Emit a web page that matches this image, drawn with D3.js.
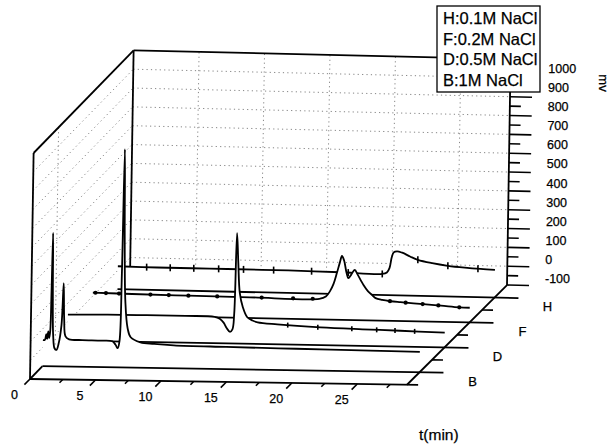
<!DOCTYPE html>
<html>
<head>
<meta charset="utf-8">
<script src="https://cdn.jsdelivr.net/npm/d3@7/dist/d3.min.js"></script>
<style>
  body { margin: 0; background: #fff; }
  svg { display: block; font-family: "Liberation Sans", Arial, sans-serif; }
</style>
</head>
<body>
<div id="chart"></div>
<script>
/* categories, front (B) to back (H) */
var series = ["B", "D", "F", "H"];
var legendLabels = ["H:0.1M NaCl", "F:0.2M NaCl", "D:0.5M NaCl", "B:1M NaCl"];
var timeTicks = [0, 5, 10, 15, 20, 25];
var mvTicks = [-100, 0, 100, 200, 300, 400, 500, 600, 700, 800, 900, 1000];

/* chromatograms: [t (min), signal (mV)] */
var traceB = [[0, 38], [0.15, 40], [0.25, 70], [0.32, 45], [0.4, 85], [0.48, 50], [0.55, 90],
              [0.6, 300], [0.65, 608], [0.7, 300], [0.78, 60], [0.9, -5], [1.05, -12], [1.2, 20],
              [1.4, 120], [1.52, 343], [1.6, 150], [1.72, 60], [2.0, 45], [3, 42], [4.5, 41],
              [5.3, 38], [5.55, 20], [5.72, 2], [5.85, 40], [5.95, 400], [6.03, 1059], [6.12, 600],
              [6.25, 250], [6.45, 110], [6.7, 61], [7.45, 35], [8.5, 28], [10, 22], [14, 18],
              [18, 15], [22, 13], [25, 11], [28.8, 8]];
var traceD = [[0, 37], [3, 41], [6, 42], [9, 42], [11.2, 40], [11.6, 30], [11.9, 10], [12.15, -20],
              [12.4, -38], [12.58, -25], [12.7, 60], [12.82, 486], [12.95, 330], [13.1, 170],
              [13.35, 94], [13.7, 41], [14.1, 24], [14.5, 15], [16, 6], [19.3, -6], [22.5, -12],
              [25.4, -16], [28.8, -22]];
var traceF = [[0, 18], [3, 15], [7.3, 12], [12, 10], [17.3, 9], [17.8, 22], [18.1, 50], [18.37, 90],
              [18.6, 145], [18.83, 205], [18.98, 239], [19.15, 215], [19.35, 150], [19.5, 122],
              [19.7, 140], [19.97, 166], [20.2, 142], [20.45, 112], [20.66, 87], [21.0, 55],
              [21.35, 34], [21.6, 19], [22.1, 10], [22.75, 4], [23.5, 0], [25.25, -8], [26.6, -14],
              [28, -21], [28.8, -22]];
var traceH = [[0, 22], [3, 20], [7, 20], [11, 20], [14, 19], [17, 16], [20.2, 12], [20.55, 20],
              [20.75, 45], [20.9, 100], [21.05, 128], [21.3, 134], [21.7, 127], [22.3, 108],
              [22.9, 91], [24, 75], [25.2, 63], [26.5, 55], [27.7, 50], [28.8, 47]];

/* symbol positions along the traces (min) */
var markersH = [2.2, 4.0, 5.8, 7.7, 9.6, 11.9, 14.8, 17.6, 20.2, 22.9, 25.2, 27.5];
var markersF = [0.2, 1.0, 2.0, 4.4, 5.8, 7.3, 9.5, 12.9, 15.3, 16.8, 22.7, 23.9, 25.2, 26.4, 28.0];
var markersD = [16.8, 19.1, 21.7, 23.6, 25.0, 26.5];

var traces = { B: traceB, D: traceD, F: traceF, H: traceH };
var markers = { B: [], D: markersD, F: markersF, H: markersH };

var width = 611, height = 445,
    tMax = 28.8;

/* time, signal and depth scales */
var x = d3.scaleLinear().domain([0, tMax]).range([0, 377]),
    y = d3.scaleLinear().domain([-100, 1100]).range([0, 226]),
    z = d3.scalePoint().domain(series).range([0.125, 0.875]);

/* oblique projection of (t, mV, depth) onto the page */
function proj(t, v, d) {
    var px = x(t), py = y(v);
    return [30 + px + 100 * d + 0.016 * py,
            379 + px * (0.01528 + 0.00764 * d) - 102.6 * d - py];
}

function seg(g, a, b, cls) {
    return g.append("line")
        .attr("class", cls)
        .attr("x1", a[0]).attr("y1", a[1])
        .attr("x2", b[0]).attr("y2", b[1]);
}

var svg = d3.select("#chart")
            .append("svg")
            .attr("width", width)
            .attr("height", height);

svg.append("style").text(
    ".edge{stroke:#000;stroke-width:1.8;fill:none;stroke-linejoin:round}" +
    ".grid{stroke:#777;stroke-width:0.9;stroke-dasharray:1.2,3.2;fill:none}" +
    ".tick{stroke:#000;stroke-width:1.6}" +
    "text{fill:#000;stroke:#000;stroke-width:0.25}");

/* walls: dotted grid */
var walls = svg.append("g");

mvTicks.filter(function(v) { return v >= 0; }).forEach(function(v) {
    seg(walls, proj(0, v, 1), proj(tMax, v, 1), "grid");
    seg(walls, proj(0, v, 0), proj(0, v, 1), "grid");
});
[5, 10, 15, 20, 25].forEach(function(t) {
    seg(walls, proj(t, -100, 1), proj(t, 1100, 1), "grid");
});
seg(walls, proj(0, -100, 0.25), proj(0, 1100, 0.25), "grid");
seg(walls, proj(0, -100, 0.125), proj(0, -100, 1), "grid");

/* box edges */
seg(walls, proj(0, -100, 0), proj(0, 1100, 0), "edge");
seg(walls, proj(0, 1100, 0), proj(0, 1100, 1), "edge");
seg(walls, proj(0, -100, 1), proj(0, 1100, 1), "edge");
seg(walls, proj(0, 1100, 1), proj(tMax, 1100, 1), "edge");
seg(walls, proj(tMax, -100, 1), proj(tMax, 1100, 1), "edge");
seg(walls, proj(0, -100, 0), proj(0, -100, 0.125), "edge");

/* mV axis ticks and labels */
var axisZ = svg.append("g");
d3.range(-100, 1001, 50).forEach(function(v) {
    var p = proj(tMax, v, 1),
        len = v % 100 === 0 ? 22 : 11;
    seg(axisZ, p, [p[0] + len, p[1] + len * 0.023], "tick");
});
axisZ.selectAll("text")
    .data(mvTicks)
    .enter().append("text")
        .attr("x", function(v) { return proj(tMax, v, 1)[0] + 38; })
        .attr("y", function(v) { return proj(tMax, v, 1)[1] - 6 - (v + 100) / 1100 * 3; })
        .attr("dominant-baseline", "central")
        .attr("font-size", 12.5)
        .text(function(v) { return v; });

/* traces, back to front, with hidden-line fill */
var line = d3.line()
    .x(function(d) { return d[0]; })
    .y(function(d) { return d[1]; })
    .curve(d3.curveCatmullRom.alpha(0.5));

series.slice().reverse().forEach(function(key) {
    var d = z(key),
        data = traces[key],
        pts = data.map(function(p) { return proj(p[0], p[1], d); }),
        g = svg.append("g").attr("class", "trace-" + key),
        curvePath = line(pts),
        valueAt = d3.scaleLinear()
            .domain(data.map(function(p) { return p[0]; }))
            .range(data.map(function(p) { return p[1]; }));

    g.append("path")
        .attr("d", curvePath + "L" + proj(tMax, -100, d).join(",") +
                   "L" + proj(0, -100, d).join(",") + "Z")
        .attr("fill", "#fff");

    /* floor line at this depth, running out as the depth-axis tick */
    seg(g, proj(0, -100, d), proj(tMax + 1.83, -100, d), "edge");

    g.append("path")
        .attr("d", curvePath)
        .attr("class", "edge");

    markers[key].forEach(function(t) {
        var p = proj(t, valueAt(t), d);
        if (key === "H") {
            seg(g, [p[0], p[1] - 3.5], [p[0], p[1] + 3.5], "tick").attr("stroke-width", 1.3);
        } else if (key === "F") {
            g.append("circle").attr("cx", p[0]).attr("cy", p[1]).attr("r", 2.1).attr("fill", "#000");
        } else {
            seg(g, [p[0], p[1] - 2.5], [p[0], p[1] + 2.5], "tick").attr("stroke-width", 1);
        }
    });
});

/* depth axis */
var axisY = svg.append("g");
seg(axisY, proj(tMax, -100, 0), proj(tMax, -100, 1), "edge");
[0.25, 0.5, 0.75].forEach(function(d) {
    var p = proj(tMax, -100, d);
    seg(axisY, p, [p[0] + 11, p[1] + 0.2], "tick");
});
axisY.selectAll("text")
    .data(series)
    .enter().append("text")
        .attr("x", function(k) { return proj(tMax, -100, z(k))[0] + 53; })
        .attr("y", function(k) { return proj(tMax, -100, z(k))[1] + 9; })
        .attr("text-anchor", "middle")
        .attr("dominant-baseline", "central")
        .attr("font-size", 13)
        .text(function(k) { return k; });

/* time axis */
var axisX = svg.append("g");
seg(axisX, proj(0, -100, 0), proj(tMax + 0.85, -100, 0), "edge");
d3.range(0, 28, 2.5).forEach(function(t) {
    var p = proj(t, -100, 0),
        len = t % 5 === 0 ? 5.6 : 3.2;
    seg(axisX, p, [p[0] - len, p[1] + len], "tick");
});
axisX.selectAll("text")
    .data(timeTicks)
    .enter().append("text")
        .attr("x", function(t) { return proj(t, -100, 0)[0] - 15.5; })
        .attr("y", function(t) { return proj(t, -100, 0)[1] + 16; })
        .attr("text-anchor", "middle")
        .attr("dominant-baseline", "central")
        .attr("font-size", 12.5)
        .text(function(t) { return t; });

/* axis titles */
svg.append("text")
    .attr("x", 419)
    .attr("y", 440)
    .attr("font-size", 15.5)
    .text("t(min)");

svg.append("text")
    .attr("transform", "translate(603,83)rotate(90)")
    .attr("text-anchor", "middle")
    .attr("dominant-baseline", "central")
    .attr("font-size", 13)
    .text("mv");

/* legend */
var legend = svg.append("g").attr("class", "legend");
legend.append("rect")
    .attr("x", 437).attr("y", 6)
    .attr("width", 103).attr("height", 86)
    .attr("fill", "#fff")
    .attr("stroke", "#000")
    .attr("stroke-width", 1.3);
legend.selectAll("text")
    .data(legendLabels)
    .enter().append("text")
        .attr("x", 443)
        .attr("y", function(d, i) { return 24 + i * 20.6; })
        .attr("font-size", 16.5)
        .text(function(d) { return d; });
</script>
</body>
</html>
